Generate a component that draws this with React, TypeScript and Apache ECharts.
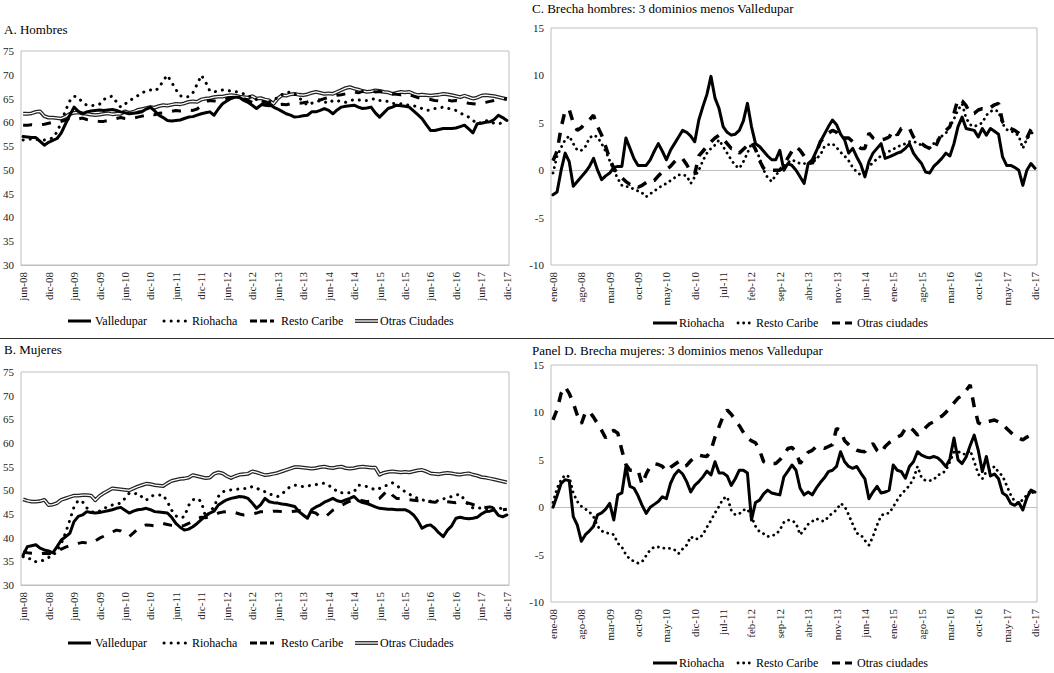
import React, { useEffect, useRef } from "react";
import * as echarts from "echarts";

// ---------- categories ----------
const MONTHS = ["ene", "feb", "mar", "abr", "may", "jun", "jul", "ago", "sep", "oct", "nov", "dic"];
function monthLabels(startYear: number, startMonth: number, count: number): string[] {
  const out: string[] = [];
  for (let k = 0; k < count; k++) {
    const m = (startMonth + k) % 12;
    const y = startYear + Math.floor((startMonth + k) / 12);
    out.push(MONTHS[m] + "-" + String(y % 100).padStart(2, "0"));
  }
  return out;
}
const leftCategories = monthLabels(2008, 5, 115); // jun-08 .. dic-17
const rightCategories = monthLabels(2008, 0, 120); // ene-08 .. dic-17

// ---------- Panel A: Hombres ----------
const hombresValledupar = [
  57.0, 56.9, 56.8, 56.8, 56.0, 55.2, 55.8, 56.2, 56.6, 57.8,
  59.7, 61.5, 63.2, 62.3, 61.8, 62.2, 62.4, 62.5, 62.6, 62.5,
  62.6, 62.7, 62.5, 62.2, 62.0, 61.8, 61.9, 62.0, 62.2, 62.8,
  63.2, 62.4, 61.5, 61.0, 60.4, 60.3, 60.4, 60.5, 60.8, 61.1,
  61.2, 61.5, 61.8, 62.0, 62.2, 61.5, 62.8, 63.9, 64.5, 65.0,
  65.3, 65.2, 64.6, 64.2, 63.6, 62.9, 63.6, 64.3, 63.8, 63.2,
  62.8, 62.3, 61.8, 61.5, 61.1, 61.2, 61.4, 61.5, 62.2, 62.2,
  62.5, 62.9, 62.5, 61.8, 62.6, 63.2, 63.4, 63.5, 63.6, 63.2,
  62.9, 63.0, 63.2, 62.0, 61.1, 62.0, 62.9, 63.2, 63.6, 63.5,
  63.4, 63.2, 62.4, 61.6, 60.8, 59.5, 58.3, 58.3, 58.5, 58.7,
  58.7, 58.7, 58.8, 59.1, 59.4, 58.6, 57.8, 59.7, 59.8, 60.0,
  60.1, 60.6, 61.5, 61.0, 60.4,
];
const hombresRiohacha = [
  56.3, 56.4, 56.5, 56.4, 56.3, 56.3, 56.5, 56.7, 58.0, 60.0,
  62.5, 64.5, 65.5, 65.2, 64.2, 63.6, 63.5, 63.6, 63.8, 64.8,
  65.3, 65.5, 64.3, 63.2, 63.8, 64.6, 65.0, 65.6, 66.2, 66.6,
  66.8, 66.6, 67.2, 68.8, 69.9, 68.4, 66.9, 65.6, 65.3, 65.4,
  66.2, 68.0, 69.9, 68.5, 66.6, 66.4, 66.6, 66.8, 66.7, 66.6,
  66.5, 66.2, 66.0, 65.6, 65.2, 64.8, 64.6, 64.2, 64.3, 64.8,
  65.2, 65.8, 66.2, 66.4, 66.0, 65.2, 64.4, 63.6, 64.0, 64.4,
  64.5, 64.3, 64.0, 64.6, 64.6, 64.3, 64.2, 64.5, 64.8, 64.7,
  64.6, 64.6, 64.8, 65.0, 64.6, 64.5, 64.4, 64.0, 63.9, 63.9,
  63.7, 63.6, 63.5, 63.2, 62.9, 62.5, 62.6, 62.9, 63.0, 63.2,
  63.0, 62.7, 62.5, 62.0, 61.5, 61.1, 60.4, 59.7, 60.0, 60.4,
  60.1, 59.8, 59.7, 59.9, 60.1,
];
const hombresResto = [
  59.4, 59.4, 59.5, 59.4, 59.5, 59.6, 59.8, 60.0, 60.1, 60.2,
  60.5, 60.8, 60.8, 60.7, 60.9, 60.6, 60.4, 60.3, 60.2, 60.2,
  60.4, 60.6, 60.8, 61.0, 60.8, 60.7, 60.9, 61.1, 61.3, 61.5,
  61.8, 61.6, 61.9, 62.0, 62.2, 62.3, 62.5, 62.4, 62.5, 62.6,
  62.5, 62.8, 63.5, 64.3, 64.6, 64.5, 64.4, 64.7, 65.0, 65.2,
  65.3, 65.1, 65.0, 64.6, 64.2, 64.0, 63.8, 63.6, 63.5, 63.6,
  63.7, 63.8, 63.7, 63.9, 63.9, 64.0, 64.1, 64.3, 64.6, 64.8,
  64.7, 65.0, 65.2, 65.5, 65.7, 65.8, 66.0, 66.3, 66.4, 66.2,
  66.5, 66.7, 66.6, 66.4, 66.5, 66.3, 66.2, 66.0, 65.9, 65.8,
  66.0, 65.8, 65.5, 65.2, 65.0, 64.9, 64.8, 64.6, 64.5, 64.6,
  64.7, 64.5, 64.6, 64.4, 64.2, 64.0, 63.9, 63.8, 64.0, 64.2,
  64.4, 64.6, 64.8, 65.0, 64.9,
];
const hombresOtras = [
  61.8, 61.8, 61.9, 62.2, 62.3, 61.3, 61.0, 61.0, 60.9, 60.8,
  61.2, 61.8, 62.0, 62.1, 61.9, 61.8, 61.6, 61.5, 61.6, 61.8,
  61.9, 61.7, 61.8, 61.8, 62.3, 62.0, 62.2, 62.6, 62.8, 63.0,
  63.2, 63.1, 63.4, 63.6, 63.5, 63.7, 63.9, 63.8, 64.0, 64.3,
  64.4, 64.3, 64.8, 65.0, 65.1, 65.3, 65.4, 65.4, 65.6, 65.7,
  65.6, 65.4, 65.3, 65.2, 65.5, 65.0, 65.1, 64.8, 64.6, 63.9,
  65.0, 65.7, 65.6, 65.9, 66.0, 65.8, 65.7, 65.9, 66.2, 66.4,
  66.2, 66.0, 66.1, 66.0, 66.4, 66.8, 67.2, 67.4, 67.1, 66.9,
  66.6, 66.4, 66.5, 66.7, 66.6, 66.4, 66.3, 66.0, 66.2, 66.4,
  66.3, 66.4, 66.0, 65.7, 65.8, 65.7, 65.6, 65.7, 65.8, 66.0,
  65.9, 65.7, 65.5, 65.3, 65.6, 65.3, 65.0, 65.2, 65.6, 65.7,
  65.6, 65.5, 65.3, 65.1, 64.9,
];

// ---------- Panel B: Mujeres ----------
const mujeresValledupar = [
  36.3, 38.1, 38.3, 38.5, 37.8, 37.4, 37.2, 36.8, 38.1, 39.5,
  40.2, 40.9, 43.4, 44.5, 44.8, 45.5, 45.3, 45.2, 45.3, 45.5,
  45.7, 45.9, 46.2, 46.4, 45.8, 45.2, 45.6, 45.9, 46.0, 46.2,
  45.9, 45.5, 45.4, 45.3, 45.2, 44.3, 43.0, 42.2, 41.6, 41.8,
  42.3, 43.0, 43.8, 44.6, 45.2, 45.6, 46.9, 47.5, 48.0, 48.3,
  48.5, 48.7, 48.6, 48.3, 47.3, 46.2, 47.0, 48.3, 47.6, 47.4,
  47.3, 47.1, 47.0, 46.8, 46.6, 45.5, 44.8, 44.1, 45.9, 46.5,
  46.9, 47.5, 47.9, 48.3, 47.8, 47.6, 48.0, 48.3, 48.7, 47.8,
  47.4, 47.2, 46.9, 46.5, 46.2, 46.1, 46.0, 46.0, 45.9, 45.9,
  45.9, 45.5, 44.8, 43.6, 42.0, 42.5, 42.7, 42.0, 41.0, 40.2,
  41.6, 42.5, 44.1, 44.3, 44.1, 44.0, 44.1, 44.3, 45.0, 45.5,
  45.6, 45.9, 44.7, 44.4, 44.8,
];
const mujeresRiohacha = [
  36.0, 35.5, 35.6, 34.9, 35.0, 35.3, 35.8, 36.2, 37.2, 38.8,
  41.0, 43.7, 46.5, 47.9, 47.6, 46.3, 45.5, 45.3, 45.6, 46.2,
  46.5, 46.9, 47.1, 47.3, 48.3, 49.4, 49.2, 49.4, 48.6, 47.9,
  48.7, 49.0, 49.0, 49.0, 47.6, 45.8, 44.6, 44.2, 44.4, 46.8,
  48.0, 48.3, 47.6, 44.4, 45.5, 46.5, 48.7, 49.7, 49.9, 50.1,
  50.2, 50.3, 50.4, 50.4, 50.8, 50.5, 50.0, 49.7, 49.2, 49.0,
  48.7, 49.2, 50.1, 50.8, 51.1, 50.9, 50.8, 50.9, 51.1, 51.2,
  51.4, 51.5, 51.0, 50.6, 49.7, 49.5, 49.4, 49.5, 49.7, 51.1,
  51.0, 50.8, 50.5, 50.1, 50.4, 50.8, 51.2, 51.6, 51.0, 50.4,
  49.7, 49.2, 48.7, 48.3, 48.0, 47.8, 47.7, 47.6, 47.9, 48.2,
  48.4, 48.7, 49.0, 49.2, 48.0, 46.8, 46.3, 46.2, 46.3, 46.1,
  46.0, 46.2, 46.3, 46.1, 46.0,
];
const mujeresResto = [
  37.0, 36.8, 36.7, 36.6, 36.6, 36.7, 36.6, 36.8, 37.0, 37.6,
  38.0, 38.3, 38.5, 38.8, 39.0, 38.9, 38.8, 39.3, 39.9, 40.3,
  40.8, 41.2, 41.6, 41.4, 40.8, 40.2, 41.0, 41.8, 42.4, 42.7,
  42.6, 42.5, 42.8, 43.0, 42.8, 42.6, 42.5, 42.4, 42.6, 43.0,
  43.5, 44.1, 44.3, 44.2, 44.5, 44.9, 45.2, 45.4, 45.5, 45.5,
  45.3, 45.0, 44.8, 44.9, 45.0, 45.2, 45.5, 45.5, 45.4, 45.6,
  45.6, 45.5, 45.4, 45.5, 45.6, 45.7, 45.8, 45.6, 45.4, 45.2,
  44.4, 44.2, 45.0, 45.8, 46.2, 46.8, 47.3, 47.7, 48.0, 48.0,
  47.8, 47.6, 47.8, 48.0, 48.3, 49.2, 50.1, 49.0, 48.3, 48.3,
  48.1, 48.0, 47.9, 47.8, 47.7, 47.8, 47.6, 47.5, 47.6, 47.7,
  47.6, 47.5, 47.4, 47.6, 47.5, 47.3, 47.0, 46.8, 46.5, 46.4,
  46.5, 46.3, 46.0, 45.9, 46.0,
];
const mujeresOtras = [
  48.1, 47.8, 47.6, 47.6, 47.7, 48.0, 46.9, 47.0, 47.3, 48.0,
  48.3, 48.6, 48.9, 48.9, 49.0, 49.0, 48.9, 47.9, 48.8, 49.4,
  49.9, 50.4, 50.3, 50.2, 50.1, 50.0, 50.4, 50.8, 51.1, 51.4,
  51.3, 51.1, 51.0, 50.9, 51.5, 52.0, 52.2, 52.4, 52.5, 52.7,
  53.2, 53.0, 52.8, 52.6, 52.7, 53.5, 53.8, 53.6, 53.0, 52.6,
  53.0, 53.3, 53.4, 53.5, 54.0, 53.8, 53.5, 53.2, 53.3, 53.5,
  53.7, 54.0, 54.3, 54.6, 54.9, 54.9, 54.8, 54.7, 54.6, 54.7,
  54.9, 55.0, 54.8, 54.7, 54.9, 55.0, 54.7, 54.6, 54.7, 54.9,
  55.0, 54.9, 54.8, 54.8, 53.3, 53.7, 53.9, 54.0, 53.9, 53.8,
  53.9, 53.8, 54.0, 54.2, 54.3, 54.0, 53.6, 53.5, 53.4, 53.6,
  53.7, 53.6, 53.4, 53.3, 53.5, 53.6, 53.3, 53.1, 52.8, 52.7,
  52.5, 52.3, 52.1, 51.9, 51.7,
];

// ---------- Panel C: Brecha hombres ----------
const brechaHRiohacha = [
  -2.6, -2.3, 0.0, 1.8, 0.9, -1.7, -1.2, -0.7, -0.2, 0.4,
  1.25, 0.0, -1.0, -0.6, -0.3, 0.3, 0.4, 0.4, 3.4, 2.3,
  1.2, 0.5, 0.5, 0.5, 1.1, 2.0, 2.8, 2.0, 1.1, 2.1,
  2.8, 3.5, 4.2, 4.0, 3.6, 3.0, 5.3, 6.7, 8.0, 9.9,
  7.6, 6.5, 4.6, 4.0, 3.7, 3.8, 4.2, 5.2, 7.05, 4.6,
  2.8, 2.5, 2.0, 1.5, 1.1, 1.1, 2.1, 0.0, 0.7, 0.5,
  0.0, -0.7, -1.4, 0.7, 1.1, 2.0, 3.0, 3.8, 4.6, 5.3,
  4.8, 3.8, 3.2, 1.8, 2.3, 1.4, 0.6, -0.7, 0.9, 1.8,
  2.3, 2.8, 1.25, 1.4, 1.6, 1.8, 1.95, 2.3, 2.8, 1.8,
  1.2, 0.7, -0.2, -0.3, 0.4, 0.8, 1.25, 1.8, 1.5, 2.8,
  4.6, 5.6, 4.4, 4.3, 4.2, 3.5, 4.4, 3.7, 4.4, 4.1,
  3.8, 1.4, 0.5, 0.5, 0.3, 0.0, -1.6, 0.0, 0.7, 0.2,
];
const brechaHResto = [
  -0.3, 1.5, 2.4, 3.2, 3.6, 2.8, 2.1, 2.1, 2.5, 3.4,
  3.7, 3.5, 2.8, 2.0, 1.0, 0.0, -0.9, -1.6, -1.7, -1.8,
  -2.0, -2.2, -2.4, -2.8, -2.5, -2.2, -1.9, -1.6, -1.4, -1.1,
  -0.8, -0.5, -0.5, -0.6, -1.4, -0.7, 0.0, 1.0, 1.8, 2.3,
  2.65, 3.2, 2.5, 1.8, 1.1, 0.5, 0.2, 0.9, 1.8, 2.8,
  2.2, 1.3, 0.0, -0.8, -1.2, -0.5, -0.1, 0.4, 0.8, 1.1,
  0.9, 0.7, 0.7, 0.7, 0.7, 1.2, 1.6, 2.5, 2.7, 2.8,
  2.4, 1.9, 1.5, 1.0, 0.3, -0.2, -0.5, -0.1, 0.4, 0.8,
  1.2, 1.5, 1.8, 2.0, 2.2, 2.5, 2.6, 2.8, 3.0, 3.0,
  2.9, 2.6, 2.5, 2.3, 2.8, 3.2, 3.6, 3.9, 4.6, 5.4,
  6.35, 7.0, 5.5, 4.8, 4.6, 4.8, 5.0, 5.8, 6.2, 6.35,
  6.2, 4.9, 4.3, 4.1, 4.0, 3.6, 2.3, 3.3, 3.8, 4.3,
];
const brechaHOtras = [
  1.0, 2.0, 4.5, 6.3, 6.4, 5.0, 4.2, 4.5, 5.0, 5.3,
  5.8, 4.6, 3.7, 2.5, 1.2, 0.2, -0.4, -0.8, -1.2, -1.5,
  -1.4, -1.8, -1.6, -1.3, -1.0, -1.1, -0.6, -0.2, 0.1, 0.4,
  0.9, 1.3, 1.2, 0.6, -0.2, -0.4, 1.5, 2.0, 2.5, 3.0,
  3.4, 3.7, 3.3, 2.8, 2.3, 2.3, 1.8, 2.2, 2.6, 3.0,
  2.2, 1.0, 0.2, -0.1, 0.0, 0.0, 0.0, 0.6, 1.3, 2.0,
  2.5, 2.1, 1.5, 1.1, 0.7, 1.8, 3.0, 3.5, 3.9, 4.2,
  4.0, 3.4, 3.4, 3.4, 3.0, 2.6, 2.3, 2.3, 3.9, 3.4,
  3.2, 3.2, 3.3, 3.5, 4.2, 3.7, 4.4, 4.5, 4.4, 3.5,
  3.1, 2.8, 2.5, 2.3, 2.1, 3.0, 3.9, 4.2, 4.6, 6.0,
  7.5, 7.3, 6.8, 6.0, 6.0, 6.35, 6.5, 6.4, 6.6, 6.9,
  7.05, 5.1, 4.6, 4.4, 4.2, 3.9, 3.5, 3.4, 4.3, 4.9,
];

// ---------- Panel D: Brecha mujeres ----------
const brechaMRiohacha = [
  0.0, 1.2, 2.5, 2.9, 2.8, -1.0, -1.9, -3.6, -2.9, -2.5,
  -2.0, -0.8, -0.6, -0.2, 0.4, -1.35, 1.3, 1.5, 4.3, 2.2,
  2.0, 1.2, 0.2, -0.65, 0.0, 0.3, 0.6, 1.1, 0.9, 2.5,
  3.4, 3.9, 3.5, 2.7, 1.6, 2.3, 2.7, 3.2, 3.8, 3.4,
  4.8, 3.6, 3.6, 3.3, 2.3, 3.0, 3.9, 3.9, 3.6, -1.35,
  0.5, 0.75, 1.4, 1.8, 1.5, 1.4, 1.3, 3.2, 3.8, 4.45,
  3.9, 2.0, 1.3, 1.6, 1.3, 2.0, 2.6, 3.1, 3.75, 3.9,
  4.3, 5.85, 4.8, 4.3, 4.1, 4.3, 3.6, 3.0, 0.9, 1.6,
  2.2, 1.5, 1.6, 1.8, 4.45, 3.9, 3.75, 3.05, 4.3, 4.8,
  5.85, 5.5, 5.3, 5.2, 5.35, 5.2, 4.8, 4.3, 5.1, 7.3,
  5.0, 4.6, 5.3, 6.5, 7.6, 6.0, 3.75, 5.35, 3.3, 3.5,
  3.0, 1.5, 1.2, 0.4, 0.2, 0.5, -0.3, 1.0, 1.8, 1.6,
];
const brechaMResto = [
  0.5, 2.0, 2.9, 3.4, 3.2, 1.5, 0.6, 0.1, -0.2, -0.5,
  -1.0, -2.0, -2.5, -2.7, -2.75, -2.9, -3.8, -4.2, -5.0, -5.5,
  -5.7, -5.9, -5.75, -5.1, -4.5, -4.2, -4.2, -4.3, -4.35, -4.35,
  -4.5, -4.9, -4.4, -4.0, -3.1, -3.4, -3.3, -2.9, -2.1, -1.4,
  -0.6, 0.1, 0.9, 1.1, -0.3, -0.8, -0.7, -0.3, -0.2, -1.0,
  -2.0, -2.6, -2.8, -3.1, -3.0, -2.9, -2.4, -1.6, -1.35, -1.4,
  -1.7, -2.9, -2.4, -1.8, -1.5, -1.2, -1.4, -1.5, -1.0, -0.6,
  -0.3, 0.4, 0.1, -0.8, -1.8, -2.75, -2.9, -3.5, -4.0, -3.1,
  -1.9, -0.9, -0.65, -0.65, 0.05, 0.75, 1.4, 1.8, 2.3, 3.0,
  4.3, 3.1, 2.8, 2.8, 2.9, 3.4, 3.5, 3.9, 4.8, 5.8,
  5.9, 5.6, 5.6, 6.0, 4.8, 3.5, 3.0, 3.75, 3.9, 4.3,
  3.7, 3.3, 2.3, 1.3, 0.6, 0.4, 0.8, 1.3, 1.8, 1.2,
];
const brechaMOtras = [
  9.2, 10.3, 12.0, 12.7, 12.0, 11.0, 9.7, 8.8, 10.0, 10.1,
  9.5, 8.8, 8.1, 7.3, 7.9, 8.1, 7.8, 6.0, 4.5, 3.9,
  3.9, 3.9, 2.4, 3.5, 4.3, 4.6, 4.5, 4.3, 3.8, 4.2,
  4.5, 4.8, 4.3, 4.4, 4.9, 5.3, 5.5, 5.4, 5.35, 6.0,
  7.4, 8.5, 9.6, 10.25, 9.8, 9.2, 8.6, 7.9, 7.3, 7.0,
  6.8, 6.0, 4.8, 4.6, 4.6, 4.6, 5.0, 5.5, 6.2, 6.3,
  5.85, 4.6, 5.2, 5.8, 6.0, 6.4, 6.35, 6.2, 6.4, 6.6,
  8.3, 8.1, 7.0, 6.6, 6.2, 6.0, 5.9, 5.85, 6.4, 6.7,
  6.0, 5.7, 6.4, 6.8, 7.1, 7.4, 7.6, 8.3, 8.5, 8.1,
  7.6, 7.9, 8.4, 8.8, 9.0, 9.4, 9.6, 10.0, 10.5, 11.0,
  11.5, 11.8, 12.3, 12.9, 10.6, 8.9, 8.7, 9.0, 9.1, 9.2,
  9.0, 8.8, 8.3, 7.9, 7.5, 7.3, 7.1, 7.4, 7.6, 7.1,
];

// ---------- styling ----------
const FONT = "Liberation Serif, DejaVu Serif, serif";
const GRID_BORDER = "#bfbfbf";
const TXT = "#222";

const solidStyle = { color: "#000", width: 3, type: "solid", join: "round", cap: "round" };
const dotLeftStyle = { color: "#000", width: 3, type: [0.1, 7], cap: "round" };
const dashLeftStyle = { color: "#000", width: 3, type: [9, 10], cap: "butt" };
const dblOuterStyle = { color: "#222", width: 3.8, type: "solid", join: "round" };
const dblInnerStyle = { color: "#fff", width: 1.3, type: "solid", join: "round" };
const dotRightStyle = { color: "#000", width: 2.8, type: [0.1, 5.5], cap: "round" };
const dashRightStyle = { color: "#000", width: 3.5, type: [10, 9], cap: "butt" };

function lineSeries(name: string, data: number[], idx: number, lineStyle: any, z: number) {
  return {
    type: "line",
    name,
    data,
    xAxisIndex: idx,
    yAxisIndex: idx,
    symbol: "none",
    showSymbol: false,
    silent: true,
    lineStyle,
    z,
  };
}

function xAxisFor(idx: number, cats: string[], interval: number) {
  return {
    type: "category",
    gridIndex: idx,
    data: cats,
    boundaryGap: true,
    axisLine: { show: true, lineStyle: { color: GRID_BORDER, width: 1 } },
    axisTick: { show: false },
    axisLabel: {
      interval,
      rotate: 90,
      margin: 7,
      fontFamily: FONT,
      fontSize: 11,
      color: TXT,
    },
    splitLine: { show: false },
  };
}

function yAxisFor(idx: number, min: number, max: number, zeroLine: boolean) {
  const n = Math.round((max - min) / 5) + 1;
  const colors: string[] = [];
  for (let k = 0; k < n; k++) colors.push(min + k * 5 === 0 ? GRID_BORDER : "rgba(0,0,0,0)");
  return {
    type: "value",
    gridIndex: idx,
    min,
    max,
    interval: 5,
    axisLine: { show: false },
    axisTick: { show: false },
    axisLabel: { margin: 7, fontFamily: FONT, fontSize: 11, color: TXT },
    splitLine: zeroLine
      ? { show: true, lineStyle: { color: colors, width: 1 } }
      : { show: false },
  };
}

function legendLine(x1: number, x2: number, y: number, stroke: string, lineWidth: number, dash: any, cap: string) {
  return {
    type: "line",
    silent: true,
    shape: { x1, y1: y, x2, y2: y },
    style: { stroke, lineWidth, lineDash: dash, lineCap: cap },
  };
}
function label(text: string, x: number, y: number, size: number) {
  return {
    type: "text",
    silent: true,
    x,
    y,
    style: {
      text,
      fontFamily: FONT,
      fontSize: size,
      fill: "#000",
      align: "left",
      verticalAlign: "middle",
      textAlign: "left",
      textVerticalAlign: "middle",
    },
  };
}

function leftLegend(y: number) {
  return [
    legendLine(68, 91, y, "#000", 3, null, "butt"),
    label("Valledupar", 95, y, 12),
    legendLine(164, 190, y, "#000", 3, [0.1, 7], "round"),
    label("Riohacha", 192, y, 12),
    legendLine(250, 274, y, "#000", 3, [7, 3], "butt"),
    label("Resto Caribe", 281, y, 12),
    legendLine(355, 378, y, "#222", 3.8, null, "butt"),
    legendLine(355, 378, y, "#fff", 1.3, null, "butt"),
    label("Otras Ciudades", 380, y, 12),
  ];
}
function rightLegend(y: number) {
  return [
    legendLine(653, 677, y, "#000", 3, null, "butt"),
    label("Riohacha", 679, y, 12),
    legendLine(738, 753, y, "#000", 2.8, [0.1, 5.5], "round"),
    label("Resto Caribe", 756, y, 12),
    legendLine(832, 852, y, "#000", 3, [8, 5], "butt"),
    label("Otras ciudades", 857, y, 12),
  ];
}

export default function App() {
  const ref = useRef<HTMLDivElement>(null);

  useEffect(() => {
    if (!ref.current) return;
    const chart = echarts.init(ref.current, undefined, { renderer: "svg" });

    const option: any = {
      animation: false,
      backgroundColor: "#fff",
      textStyle: { fontFamily: FONT },
      grid: [
        { left: 20, top: 51, width: 489, height: 214, show: true, borderColor: GRID_BORDER, borderWidth: 1 },
        { left: 20, top: 372, width: 489, height: 213, show: true, borderColor: GRID_BORDER, borderWidth: 1 },
        { left: 551, top: 28, width: 486, height: 237, show: true, borderColor: GRID_BORDER, borderWidth: 1 },
        { left: 551, top: 365, width: 486, height: 237, show: true, borderColor: GRID_BORDER, borderWidth: 1 },
      ],
      xAxis: [
        xAxisFor(0, leftCategories, 5),
        xAxisFor(1, leftCategories, 5),
        xAxisFor(2, rightCategories, 6),
        xAxisFor(3, rightCategories, 6),
      ],
      yAxis: [
        yAxisFor(0, 30, 75, false),
        yAxisFor(1, 30, 75, false),
        yAxisFor(2, -10, 15, true),
        yAxisFor(3, -10, 15, true),
      ],
      series: [
        // Panel A
        lineSeries("Otras Ciudades", hombresOtras, 0, dblOuterStyle, 2),
        lineSeries("Otras Ciudades (interior)", hombresOtras, 0, dblInnerStyle, 3),
        lineSeries("Resto Caribe", hombresResto, 0, dashLeftStyle, 4),
        lineSeries("Riohacha", hombresRiohacha, 0, dotLeftStyle, 5),
        lineSeries("Valledupar", hombresValledupar, 0, solidStyle, 6),
        // Panel B
        lineSeries("Otras Ciudades", mujeresOtras, 1, dblOuterStyle, 2),
        lineSeries("Otras Ciudades (interior)", mujeresOtras, 1, dblInnerStyle, 3),
        lineSeries("Resto Caribe", mujeresResto, 1, dashLeftStyle, 4),
        lineSeries("Riohacha", mujeresRiohacha, 1, dotLeftStyle, 5),
        lineSeries("Valledupar", mujeresValledupar, 1, solidStyle, 6),
        // Panel C
        lineSeries("Otras ciudades", brechaHOtras, 2, dashRightStyle, 4),
        lineSeries("Resto Caribe", brechaHResto, 2, dotRightStyle, 5),
        lineSeries("Riohacha", brechaHRiohacha, 2, solidStyle, 6),
        // Panel D
        lineSeries("Otras ciudades", brechaMOtras, 3, dashRightStyle, 4),
        lineSeries("Resto Caribe", brechaMResto, 3, dotRightStyle, 5),
        lineSeries("Riohacha", brechaMRiohacha, 3, solidStyle, 6),
      ],
      graphic: [
        label("A. Hombres", 4, 29, 13),
        label("B. Mujeres", 4, 349, 13),
        label("C. Brecha hombres: 3 dominios menos Valledupar", 532, 8, 13),
        label("Panel D. Brecha mujeres: 3 dominios menos Valledupar", 532, 350, 13),
        {
          type: "line",
          silent: true,
          shape: { x1: 0, y1: 338.5, x2: 1054, y2: 338.5 },
          style: { stroke: "#333", lineWidth: 1 },
        },
        ...leftLegend(321),
        ...leftLegend(643),
        ...rightLegend(323),
        ...rightLegend(663),
      ],
    };

    chart.setOption(option);
    return () => {
      chart.dispose();
    };
  }, []);

  return (
    <div
      ref={ref}
      style={{ position: "fixed", left: 0, top: 0, width: 1054, height: 673, background: "#fff" }}
    />
  );
}
